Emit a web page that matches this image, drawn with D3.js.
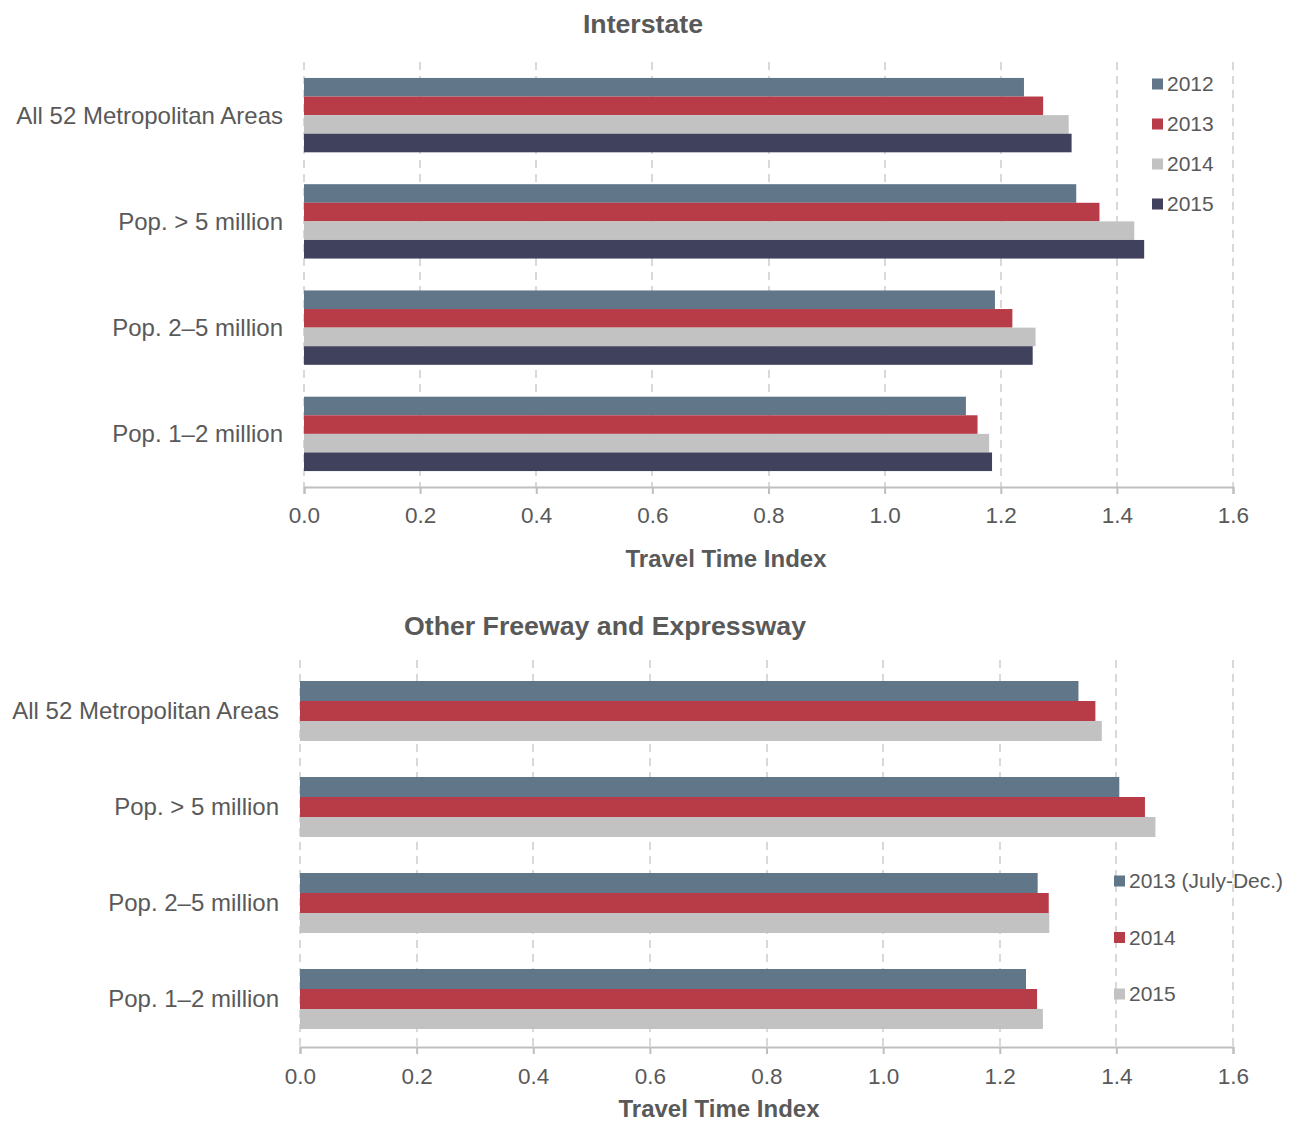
<!DOCTYPE html>
<html><head><meta charset="utf-8">
<script src="https://cdn.jsdelivr.net/npm/d3@7"></script>
<style>body{margin:0;background:#fff}text{font-family:"Liberation Sans",Arial,sans-serif;fill:#595959}</style>
</head><body>
<script>
const categories = ["All 52 Metropolitan Areas","Pop. > 5 million","Pop. 2\u20135 million","Pop. 1\u20132 million"];
const ticks = [0,0.2,0.4,0.6,0.8,1.0,1.2,1.4,1.6];
const interstateSeries = ["2012","2013","2014","2015"];
const interstate2012 = [1.24,1.33,1.19,1.14];
const interstate2013 = [1.273,1.37,1.22,1.16];
const interstate2014 = [1.317,1.43,1.26,1.18];
const interstate2015 = [1.322,1.447,1.255,1.185];
const freewaySeries = ["2013 (July-Dec.)","2014","2015"];
const freeway2013 = [1.335,1.405,1.265,1.245];
const freeway2014 = [1.364,1.449,1.284,1.264];
const freeway2015 = [1.375,1.467,1.285,1.274];
const colors = ["#627689","#b83b48","#c1c2c1","#40415c"];

const svg = d3.select("body").append("svg").attr("width",1298).attr("height",1123);

function panel(o){
  const g = svg.append("g");
  const x = d3.scaleLinear().domain([0,1.6]).range([o.x0,o.x1]);
  const y = d3.scaleBand().domain(categories).range([o.y0,o.y1]).paddingInner(o.pi).paddingOuter(o.po);
  const ys = d3.scaleBand().domain(o.series).range([0,y.bandwidth()]);
  g.selectAll(".grid").data(ticks).join("line")
    .attr("x1",d=>Math.round(x(d))).attr("x2",d=>Math.round(x(d)))
    .attr("y1",o.gy0).attr("y2",o.y1)
    .attr("stroke","#d9d9d9").attr("stroke-width",2).attr("stroke-dasharray","8,6");
  o.values.forEach((vals,si)=>{
    g.selectAll(null).data(vals).join("rect")
      .attr("x",x(0)).attr("y",(d,i)=>y(categories[i])+ys(o.series[si]))
      .attr("width",d=>x(d)-x(0)).attr("height",ys.bandwidth())
      .attr("fill",colors[si]);
  });
  const ax = g.append("g").attr("transform",`translate(0,${o.y1})`)
    .call(d3.axisBottom(x).tickValues(ticks).tickFormat(d3.format(".1f")).tickSize(7));
  ax.select(".domain").attr("stroke","#bfbfbf").attr("stroke-width",2);
  ax.selectAll(".tick line").attr("stroke","#bfbfbf").attr("stroke-width",2);
  ax.selectAll(".tick text").attr("font-size",22.5).attr("fill","#595959").attr("dy","0").attr("y",o.tickDy)
    .style("font-family","Liberation Sans, Arial, sans-serif");
  g.selectAll(".cat").data(categories).join("text")
    .attr("x",o.labelX).attr("y",d=>y(d)+y.bandwidth()/2)
    .attr("dy","0.35em").attr("text-anchor","end").attr("font-size",24).text(d=>d);
  g.append("text").attr("x",o.titleX).attr("y",o.titleY).attr("text-anchor","middle")
    .attr("font-size",26.7).attr("font-weight","bold").text(o.title);
  g.append("text").attr("x",o.axTitleX).attr("y",o.axTitleY).attr("text-anchor","middle")
    .attr("font-size",24).attr("font-weight","bold").text("Travel Time Index");
  o.series.forEach((s,i)=>{
    const ly = o.legY + i*o.legStep;
    g.append("rect").attr("x",o.legX).attr("y",ly-5.5).attr("width",11).attr("height",11).attr("fill",colors[i]);
    g.append("text").attr("x",o.legX+15).attr("y",ly).attr("dy","0.35em").attr("font-size",21).text(s);
  });
}

panel({x0:304,x1:1233,y0:62,y1:487,gy0:62,pi:0.3,po:0.15,series:interstateSeries,
  values:[interstate2012,interstate2013,interstate2014,interstate2015],
  tickDy:36,labelX:283,title:"Interstate",titleX:643,titleY:33,axTitleX:726,axTitleY:567,
  legX:1152,legY:84,legStep:40});
panel({x0:300,x1:1233,y0:663,y1:1047,gy0:660,pi:0.375,po:0.1875,series:freewaySeries,
  values:[freeway2013,freeway2014,freeway2015],
  tickDy:37,labelX:279,title:"Other Freeway and Expressway",titleX:605,titleY:635,axTitleX:719,axTitleY:1117,
  legX:1114,legY:881,legStep:56.5});
</script>
</body></html>
